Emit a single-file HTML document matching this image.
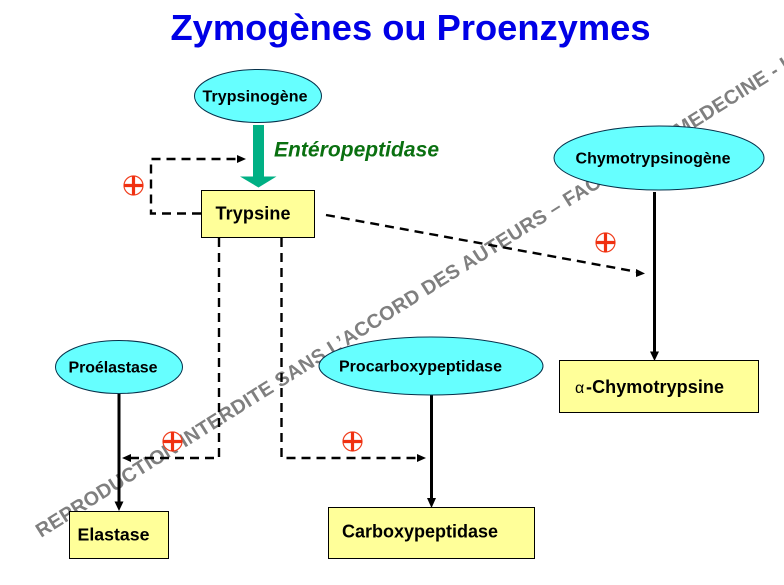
<!DOCTYPE html>
<html>
<head>
<meta charset="utf-8">
<style>
html,body{margin:0;padding:0;background:#fff;}
svg{display:block;}
text{font-family:"Liberation Sans",Arial,sans-serif;}
.b{font-weight:bold;fill:#000;}
</style>
</head>
<body>
<svg width="784" height="585" viewBox="0 0 784 585" xmlns="http://www.w3.org/2000/svg">
<defs>
<g id="plus">
<circle r="9.500" fill="#fff" stroke="#f04020" stroke-width="1.200"/>
<path d="M-9.500 0H9.500M0 -9.500V9.500" stroke="#f03010" stroke-width="3.200" fill="none"/>
</g>
</defs>
<rect width="784" height="585" fill="#fff"/>

<text x="410.500" y="40" font-size="36.300" font-weight="bold" fill="#0000e6" text-anchor="middle" textLength="480" lengthAdjust="spacing">Zymogènes ou Proenzymes</text>

<!-- watermark -->
<text transform="translate(41,538) rotate(-32.100)" font-size="19.800" font-weight="bold" fill="#7f7f7f" textLength="893" lengthAdjust="spacing">REPRODUCTION INTERDITE SANS L’ACCORD DES AUTEURS – FACULTE DE MEDECINE - U</text>

<!-- dashed connectors -->
<g fill="none" stroke="#000" stroke-width="2.400" stroke-dasharray="9 6">
<path d="M201 213.500H151V159H240"/>
<path d="M326 215L638 272"/>
<path d="M219 238V458H130"/>
<path d="M281.500 238V458H420"/>
</g>
<path d="M246 159L237 155V163Z" fill="#000"/>
<path d="M645 273.500L636 269V277Z" fill="#000"/>
<path d="M122 458L131 454V462Z" fill="#000"/>
<path d="M426 458L417 454V462Z" fill="#000"/>

<!-- solid arrows -->
<g stroke="#000" stroke-width="3" fill="none">
<path d="M654.500 192V354"/>
<path d="M119 394V505"/>
<path d="M431.500 395V501"/>
</g>
<path d="M654.500 361L650 351.500H659Z" fill="#000"/>
<path d="M119 511L114.500 501.500H123.500Z" fill="#000"/>
<path d="M431.500 508L427 498H436Z" fill="#000"/>

<!-- ellipses -->
<g fill="#66ffff" stroke="#06304a" stroke-width="1">
<ellipse cx="258" cy="96" rx="63.500" ry="26.500"/>
<ellipse cx="659" cy="158" rx="105" ry="32"/>
<ellipse cx="119" cy="367" rx="63.500" ry="26.500"/>
<ellipse cx="431" cy="366" rx="112" ry="29"/>
</g>

<!-- boxes -->
<g fill="#ffff99" stroke="#000" stroke-width="1">
<rect x="201.500" y="190.500" width="113" height="47"/>
<rect x="559.500" y="360.500" width="199" height="52"/>
<rect x="69.500" y="511.500" width="99" height="47"/>
<rect x="328.500" y="507.500" width="206" height="51"/>
</g>

<!-- green arrow -->
<path d="M253 125H264V176.500H276.500L258.500 187.500L240 176.500H253Z" fill="#00b084"/>

<text x="274" y="156.500" font-size="21" font-weight="bold" font-style="italic" fill="#0a7010" textLength="165" lengthAdjust="spacing">Entéropeptidase</text>

<!-- labels -->
<text class="b" x="202.500" y="101.500" font-size="16" textLength="105" lengthAdjust="spacing">Trypsinogène</text>
<text class="b" x="575.500" y="163.500" font-size="16" textLength="155" lengthAdjust="spacing">Chymotrypsinogène</text>
<text class="b" x="68.500" y="372.500" font-size="16" textLength="89" lengthAdjust="spacing">Proélastase</text>
<text class="b" x="339" y="371.500" font-size="16" textLength="163" lengthAdjust="spacing">Procarboxypeptidase</text>
<text class="b" x="215.500" y="219.500" font-size="18" textLength="75" lengthAdjust="spacing">Trypsine</text>
<text class="b" x="77.500" y="540.500" font-size="17.700" textLength="72" lengthAdjust="spacing">Elastase</text>
<text class="b" x="342" y="537.500" font-size="18" textLength="156" lengthAdjust="spacing">Carboxypeptidase</text>
<text x="575" y="393" font-size="16" fill="#000" font-family="'DejaVu Sans',sans-serif">α</text>
<text class="b" x="586" y="393" font-size="18" textLength="138" lengthAdjust="spacing">-Chymotrypsine</text>

<!-- plus signs -->
<use href="#plus" x="133.500" y="185.500"/>
<use href="#plus" x="605.500" y="242.500"/>
<use href="#plus" x="172.500" y="441.500"/>
<use href="#plus" x="352.500" y="441.500"/>
</svg>
</body>
</html>
